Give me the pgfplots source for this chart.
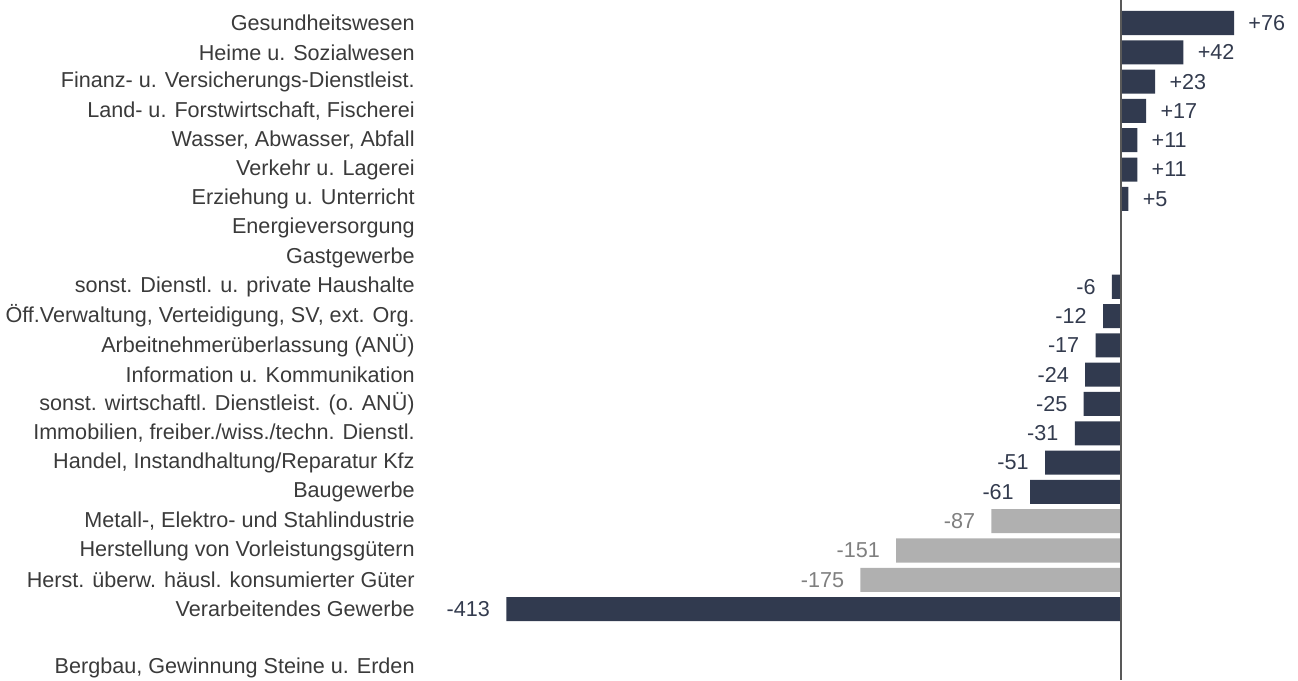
\documentclass[border=0pt]{standalone}
\usepackage{fontspec}
\setmainfont{Liberation Sans}
\usepackage{pgfplots}
\usepackage{pgfplotstable}
\pgfplotsset{compat=1.18}
\definecolor{navy}{HTML}{313A4F}
\definecolor{lgray}{HTML}{B0B0B0}
\definecolor{tgray}{HTML}{7F7F7F}
\definecolor{ctext}{HTML}{3A3A3A}
\definecolor{vtext}{HTML}{333B4E}
\pgfplotstableread{
y val lab
0 76 +76
1 42 +42
2 23 +23
3 17 +17
4 11 +11
5 11 +11
6 5 +5
}\darkpos
\pgfplotstableread{
y val lab
9 -6 -6
10 -12 -12
11 -17 -17
12 -24 -24
13 -25 -25
14 -31 -31
15 -51 -51
16 -61 -61
20 -413 -413
}\darkneg
\pgfplotstableread{
y val lab
17 -87 -87
18 -151 -151
19 -175 -175
}\graydata
\begin{document}
\begin{tikzpicture}
\begin{axis}[
  name=ax,
  scale only axis,
  width=439pt, height=340pt,
  xmin=-471, xmax=119,
  ymin=-0.785, ymax=22.42,
  y dir=reverse,
  xbar, bar shift=0pt, bar width=0.82,
  axis line style={draw=none},
  xtick=\empty,
  ytick={0,1,2,3,4,5,6,7,8,9,10,11,12,13,14,15,16,17,18,19,20,22},
  yticklabels={Gesundheitswesen, Heime u. Sozialwesen, Finanz- u. Versicherungs-Dienstleist., {Land- u. Forstwirtschaft, Fischerei}, {Wasser, Abwasser, Abfall}, Verkehr u. Lagerei, Erziehung u. Unterricht, Energieversorgung, Gastgewerbe, sonst. Dienstl. u. private Haushalte, {Öff.Verwaltung, Verteidigung, SV, ext. Org.}, Arbeitnehmerüberlassung (ANÜ), Information u. Kommunikation, sonst. wirtschaftl. Dienstleist. (o. ANÜ), {Immobilien, freiber./wiss./techn. Dienstl.}, {Handel, Instandhaltung/Reparatur Kfz}, Baugewerbe, {Metall-, Elektro- und Stahlindustrie}, Herstellung von Vorleistungsgütern, Herst. überw. häusl. konsumierter Güter, Verarbeitendes Gewerbe, {Bergbau, Gewinnung Steine u. Erden}},
  major tick length=0pt,
  yticklabel style={font=\fontsize{10.8}{12}\selectfont, text=ctext, anchor=east, inner xsep=0pt, xshift=-2.5pt},
  nodes near coords,
  point meta=explicit symbolic,
  clip=false,
]
\addplot[draw=none, fill=navy, nodes near coords style={font=\fontsize{10.8}{12}\selectfont, text=vtext, anchor=west, inner xsep=7pt, inner ysep=0pt}] table[x=val, y=y, meta=lab] {\darkpos};
\addplot[draw=none, fill=navy, nodes near coords style={font=\fontsize{10.8}{12}\selectfont, text=vtext, anchor=east, inner xsep=8pt, inner ysep=0pt}] table[x=val, y=y, meta=lab] {\darkneg};
\addplot[draw=none, fill=lgray, nodes near coords style={font=\fontsize{10.8}{12}\selectfont, text=tgray, anchor=east, inner xsep=8pt, inner ysep=0pt}] table[x=val, y=y, meta=lab] {\graydata};
\draw[color=black!65, line width=0.9pt] (axis cs:0,-0.785) -- (axis cs:0,22.42);
\end{axis}
\pgfresetboundingbox
\path[use as bounding box] ([xshift=-210pt]ax.south west) rectangle (ax.north east);
\end{tikzpicture}
\end{document}
